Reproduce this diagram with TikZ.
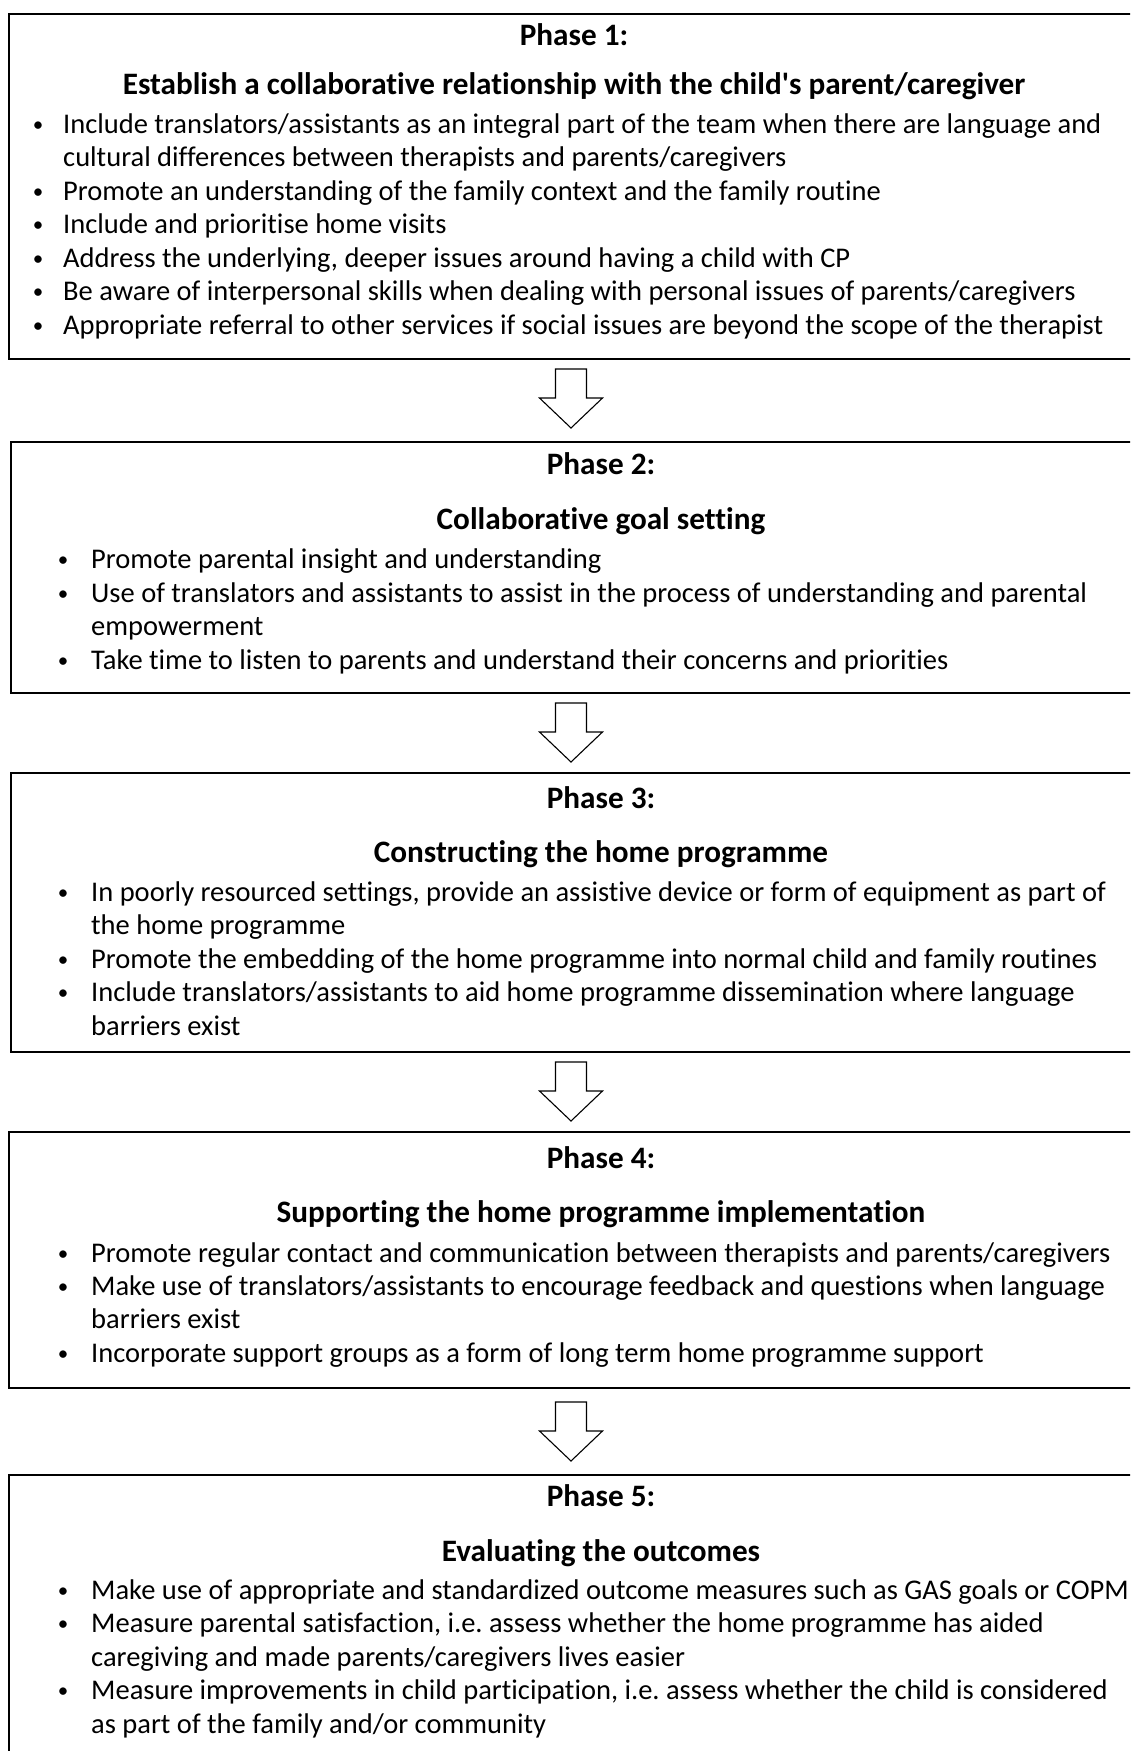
\documentclass[tikz,border=0pt]{standalone}
\usepackage{fontspec}
\setmainfont{Carlito}[Ligatures={NoCommon}]

\newcommand{\bodysize}{\fontsize{28.5}{33.5}\selectfont\frenchspacing}
\newcommand{\headsize}{\fontsize{31.2}{38}\selectfont\bfseries}

\tikzset{
  phasebox/.style={draw, line width=1.6pt, anchor=north west, inner sep=0pt},
  phase/.style={font=\headsize, anchor=base, inner sep=0pt},
  item/.style={anchor=base west, align=left, inner sep=0pt},
  dot/.style={font=\fontsize{21}{25}\selectfont, anchor=base, inner sep=0pt, yshift=2pt},
  blockarrow/.style={draw, line width=1.1pt, line join=miter, fill=white}
}

\begin{document}
\begin{tikzpicture}[x=1pt, y=-1pt, every node/.style={font=\bodysize}]
    \useasboundingbox (0,0) rectangle (1130,1751);
    \clip (0,0) rectangle (1130,1751);

    % the five boxes
    \node[phasebox, minimum width=1132pt, minimum height=345pt] (p1) at (8,13) {};
    \node[phasebox, minimum width=1180pt, minimum height=251pt] (p2) at (10,441) {};
    \node[phasebox, minimum width=1180pt, minimum height=279pt] (p3) at (10,772) {};
    \node[phasebox, minimum width=1180pt, minimum height=256pt] (p4) at (8,1131) {};
    \node[phasebox, minimum width=1180pt, minimum height=296pt] (p5) at (8,1474) {};

    % phase 1 (two-line items sit on their last line)
    \node[phase] (t1) at (574,45) {Phase 1:};
    \node[phase] (h1) at (574,94) {Establish a collaborative relationship with the child\textquotesingle s parent/caregiver};
    \node[dot] (d1a) at (38,133) {\textbullet};
    \node[item] (i1a) at (63,166.5) {Include translators/assistants as an integral part of the team when there are language and\\cultural differences between therapists and parents/caregivers};
    \node[dot] (d1b) at (38,200) {\textbullet};
    \node[item] (i1b) at (63,200) {Promote an understanding of the family context and the family routine};
    \node[dot] (d1c) at (38,233) {\textbullet};
    \node[item] (i1c) at (63,233) {Include and prioritise home visits};
    \node[dot] (d1d) at (38,267) {\textbullet};
    \node[item] (i1d) at (63,267) {Address the underlying, deeper issues around having a child with CP};
    \node[dot] (d1e) at (38,300) {\textbullet};
    \node[item] (i1e) at (63,300) {Be aware of interpersonal skills when dealing with personal issues of parents/caregivers};
    \node[dot] (d1f) at (38,334) {\textbullet};
    \node[item] (i1f) at (63,334) {Appropriate referral to other services if social issues are beyond the scope of the therapist};

    % phase 2
    \node[phase] (t2) at (601,474.5) {Phase 2:};
    \node[phase] (h2) at (601,529) {Collaborative goal setting};
    \node[dot] (d2a) at (63,568) {\textbullet};
    \node[item] (i2a) at (91,568) {Promote parental insight and understanding};
    \node[dot] (d2b) at (63,602) {\textbullet};
    \node[item] (i2b) at (91,635.5) {Use of translators and assistants to assist in the process of understanding and parental\\empowerment};
    \node[dot] (d2c) at (63,669) {\textbullet};
    \node[item] (i2c) at (91,669) {Take time to listen to parents and understand their concerns and priorities};

    % phase 3
    \node[phase] (t3) at (601,808) {Phase 3:};
    \node[phase] (h3) at (601,862) {Constructing the home programme};
    \node[dot] (d3a) at (63,901) {\textbullet};
    \node[item] (i3a) at (91,934.5) {In poorly resourced settings, provide an assistive device or form of equipment as part of\\the home programme};
    \node[dot] (d3b) at (63,968) {\textbullet};
    \node[item] (i3b) at (91,968) {Promote the embedding of the home programme into normal child and family routines};
    \node[dot] (d3c) at (63,1001.7) {\textbullet};
    \node[item] (i3c) at (91,1035.2) {Include translators/assistants to aid home programme dissemination where language\\barriers exist};

    % phase 4
    \node[phase] (t4) at (601,1168) {Phase 4:};
    \node[phase] (h4) at (601,1222.6) {Supporting the home programme implementation};
    \node[dot] (d4a) at (63,1262) {\textbullet};
    \node[item] (i4a) at (91,1262) {Promote regular contact and communication between therapists and parents/caregivers};
    \node[dot] (d4b) at (63,1295) {\textbullet};
    \node[item] (i4b) at (91,1328.5) {Make use of translators/assistants to encourage feedback and questions when language\\barriers exist};
    \node[dot] (d4c) at (63,1362) {\textbullet};
    \node[item] (i4c) at (91,1362) {Incorporate support groups as a form of long term home programme support};

    % phase 5
    \node[phase] (t5) at (601,1506) {Phase 5:};
    \node[phase] (h5) at (601,1561) {Evaluating the outcomes};
    \node[dot] (d5a) at (63,1599) {\textbullet};
    \node[item] (i5a) at (91,1599) {Make use of appropriate and standardized outcome measures such as GAS goals or COPM};
    \node[dot] (d5b) at (63,1632.6) {\textbullet};
    \node[item] (i5b) at (91,1666.1) {Measure parental satisfaction, i.e. assess whether the home programme has aided\\caregiving and made parents/caregivers lives easier};
    \node[dot] (d5c) at (63,1699.6) {\textbullet};
    \node[item] (i5c) at (91,1733.1) {Measure improvements in child participation, i.e. assess whether the child is considered\\as part of the family and/or community};

    % block arrows between the boxes
    \foreach \n/\t in {a1/369, a2/703, a3/1062, a4/1402} {
        \coordinate (\n) at (571,\t);
        \draw[blockarrow] (\n) ++(-15.5,0) -- ++(0,29) -- ++(-16,0) -- ++(31.5,30)
            -- ++(31.5,-30) -- ++(-16,0) -- ++(0,-29) -- cycle;
    }
\end{tikzpicture}
\end{document}
